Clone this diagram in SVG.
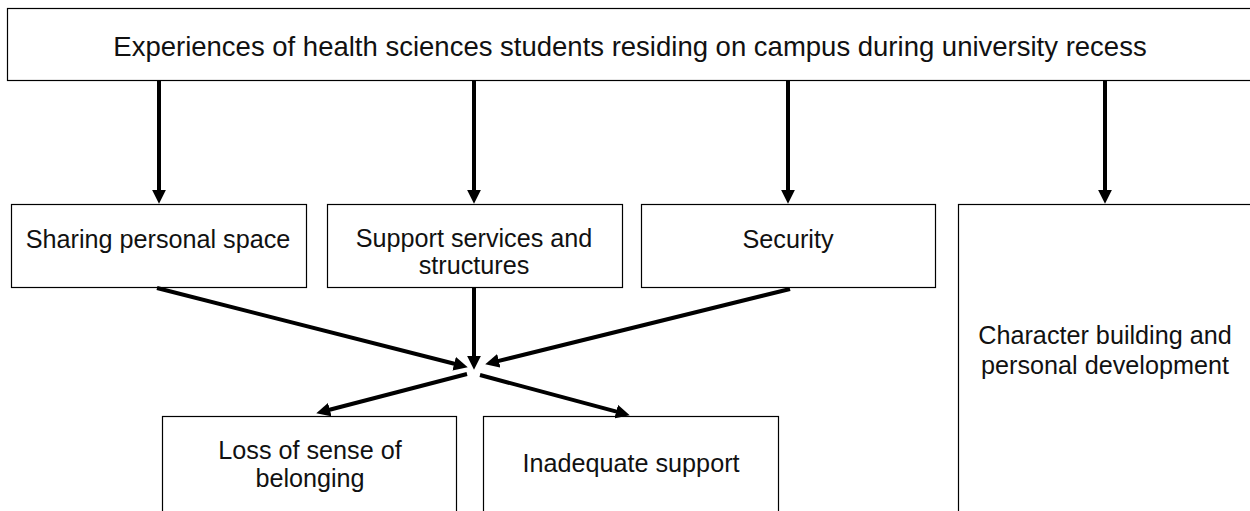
<svg xmlns="http://www.w3.org/2000/svg" width="1250" height="511" viewBox="0 0 1250 511">
  <style>
    .box { fill: #ffffff; stroke: #000000; stroke-width: 1.2; }
    .lbl { font-family: "Liberation Sans", Arial, sans-serif; font-size: 25.2px; fill: #111111; text-anchor: middle; }
    .title { font-size: 27.5px; }
    .conn { fill: none; stroke: #000000; stroke-width: 4; }
  </style>
  <defs>
    <marker id="head" markerUnits="userSpaceOnUse" markerWidth="14" markerHeight="14" viewBox="0 0 13 13" refX="3" refY="6.5" orient="auto">
      <path d="M0,0 L13,6.5 L0,13 z" fill="#000000"/>
    </marker>
  </defs>
  <rect width="1250" height="511" fill="#ffffff"/>

  <g id="experiences">
    <rect class="box" x="7.5" y="8.5" width="1250" height="72"/>
    <text class="lbl title" x="630" y="56">Experiences of health sciences students residing on campus during university recess</text>
  </g>

  <g id="sharing-personal-space">
    <rect class="box" x="11.5" y="204.5" width="295" height="83"/>
    <text class="lbl" x="158" y="248">Sharing personal space</text>
  </g>

  <g id="support-services">
    <rect class="box" x="327.5" y="204.5" width="295" height="83"/>
    <text class="lbl" x="474" y="247">Support services and</text>
    <text class="lbl" x="474" y="274">structures</text>
  </g>

  <g id="security">
    <rect class="box" x="641.5" y="204.5" width="294" height="83"/>
    <text class="lbl" x="788" y="248">Security</text>
  </g>

  <g id="character-building">
    <rect class="box" x="958.5" y="204.5" width="300" height="320"/>
    <text class="lbl" x="1105" y="344">Character building and</text>
    <text class="lbl" x="1105" y="374">personal development</text>
  </g>

  <g id="loss-of-belonging">
    <rect class="box" x="162.5" y="416.5" width="294" height="110"/>
    <text class="lbl" x="310" y="459">Loss of sense of</text>
    <text class="lbl" x="310" y="487">belonging</text>
  </g>

  <g id="inadequate-support">
    <rect class="box" x="483.5" y="416.5" width="295" height="110"/>
    <text class="lbl" x="631" y="472">Inadequate support</text>
  </g>

  <g id="connectors">
    <line class="conn" x1="159" y1="81" x2="159" y2="193" marker-end="url(#head)"/>
    <line class="conn" x1="474" y1="81" x2="474" y2="193" marker-end="url(#head)"/>
    <line class="conn" x1="788" y1="81" x2="788" y2="193" marker-end="url(#head)"/>
    <line class="conn" x1="1105" y1="81" x2="1105" y2="193" marker-end="url(#head)"/>

    <line class="conn" x1="157" y1="288" x2="457.3" y2="364.5" marker-end="url(#head)"/>
    <line class="conn" x1="474" y1="288" x2="474" y2="359" marker-end="url(#head)"/>
    <line class="conn" x1="790" y1="289" x2="495.7" y2="361.6" marker-end="url(#head)"/>

    <line class="conn" x1="467" y1="374" x2="326.7" y2="410.5" marker-end="url(#head)"/>
    <line class="conn" x1="480" y1="375" x2="619.3" y2="412.4" marker-end="url(#head)"/>
  </g>
</svg>
